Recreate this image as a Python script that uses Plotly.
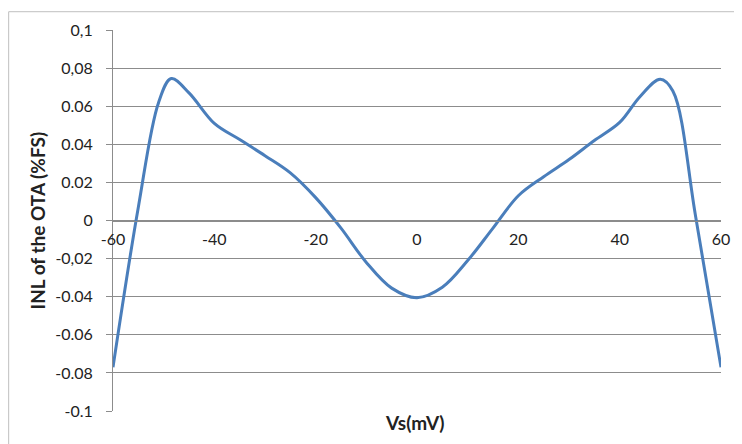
import plotly.graph_objects as go

# Data
vs_mv = [-60, -55, -51, -48.5, -45, -40, -35, -30, -25, -20, -15, -10,
         -5, 0, 5, 10, 15, 20, 25, 30, 35, 40, 44, 48, 50.5, 55, 60]
inl_pct_fs = [-0.077, 0.007, 0.062, 0.0745, 0.067, 0.051, 0.0425,
              0.034, 0.025, 0.012, -0.004, -0.022, -0.0355, -0.0405, -0.035,
              -0.021, -0.004, 0.013, 0.023, 0.032, 0.042, 0.0515,
              0.065, 0.0742, 0.068, 0.002, -0.077]

x_ticks = [-60, -40, -20, 0, 20, 40, 60]
x_tick_labels = ["-60", "-40", "-20", "0", "20", "40", "60"]
y_ticks = [0.1, 0.08, 0.06, 0.04, 0.02, 0, -0.02, -0.04, -0.06, -0.08, -0.1]
y_tick_labels = ["0,1", "0,08", "0.06", "0.04", "0.02", "0", "-0,02",
                 "-0.04", "-0.06", "-0.08", "-0.1"]

x_title = "Vs(mV)"
y_title = "INL of the OTA (%FS)"

FONT = "Lato"
GRID = "#8c8c8c"
TXT = "#222222"

fig = go.Figure()
fig.add_trace(go.Scatter(
    x=vs_mv, y=inl_pct_fs, mode="lines",
    line=dict(color="#4a7ebb", width=3, shape="spline", smoothing=1.0),
    showlegend=False, hoverinfo="skip",
))

fig.update_layout(
    width=734, height=436,
    margin=dict(l=105, r=20, t=19, b=33),
    paper_bgcolor="white", plot_bgcolor="white",
    font=dict(family=FONT, size=16, color=TXT),
    xaxis=dict(
        range=[-60, 60], tickvals=x_ticks, ticktext=x_tick_labels,
        showgrid=False, zeroline=False,
        showline=True, linecolor=GRID, linewidth=1,
        anchor="free", position=0.5,
        ticks="", tickfont=dict(family=FONT, size=16, color=TXT),
        ticklabelstandoff=4,
    ),
    yaxis=dict(
        range=[-0.1, 0.1], tickvals=y_ticks, ticktext=y_tick_labels,
        showgrid=True, gridcolor=GRID, gridwidth=1,
        zeroline=False, showline=True, linecolor=GRID, linewidth=1,
        ticks="outside", ticklen=6, tickcolor=GRID,
        tickfont=dict(family=FONT, size=16, color=TXT),
        ticklabelstandoff=10,
    ),
    annotations=[
        dict(text="<b>" + x_title + "</b>", xref="paper", yref="paper",
             x=0.496, y=-0.031, xanchor="center", yanchor="middle",
             showarrow=False, font=dict(family=FONT, size=19, color=TXT)),
        dict(text="<b>" + y_title + "</b>", xref="paper", yref="paper",
             x=-0.125, y=0.50, xanchor="center", yanchor="middle",
             textangle=-90, showarrow=False,
             font=dict(family=FONT, size=19, color=TXT)),
    ],
    shapes=[
        dict(type="rect", xref="paper", yref="paper",
             x0=-104.5 / 609, x1=1.2, y0=-0.3, y1=1.048,
             line=dict(color="#bfbfbf", width=1), layer="below"),
    ],
)

fig.write_html("out.html")
